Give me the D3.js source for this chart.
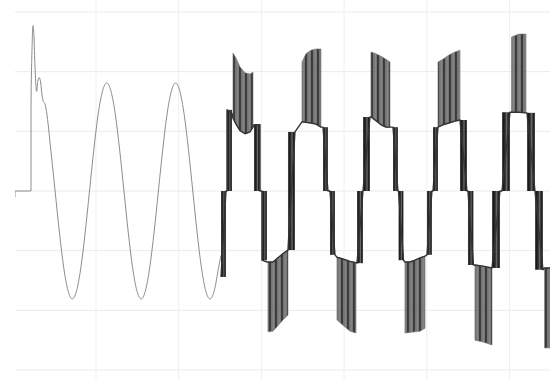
<!DOCTYPE html>
<html>
<head>
<meta charset="utf-8">
<script src="https://cdn.jsdelivr.net/npm/d3@7"></script>
<style>
  html, body { margin: 0; padding: 0; background: #fff; overflow: hidden; }
</style>
</head>
<body>
<svg id="chart" width="557" height="380"></svg>
<script>
// Time in milliseconds, voltage in volts
const timeTicks = [20, 40, 60, 80, 100, 120];
const valueTicks = [-300, -200, -100, 0, 100, 200, 300];

// Start-up transient followed by the sinusoidal supply
const sineT = [0.41, 0.45, 4.28, 4.29, 4.52, 4.76, 5.0, 5.25, 5.49, 5.66,
  5.9, 6.29, 6.63, 6.94, 7.26, 7.67, 8.03, 9.07, 10.11, 11.15,
  12.19, 13.23, 14.27, 15.31, 16.35, 17.39, 18.43, 19.47, 20.51, 21.55,
  22.6, 23.64, 24.68, 25.72, 26.76, 27.8, 28.84, 29.88, 30.92, 31.96,
  33.0, 34.05, 35.09, 36.13, 37.17, 38.21, 39.25, 40.29, 41.33, 42.37,
  43.41, 44.45, 45.49, 46.53, 47.57, 48.61, 49.66, 50.23];
const sineV = [-10, 0, 0, 144, 236, 277, 258, 208, 174, 167,
  183, 190, 181, 161, 150, 146, 133, 69, 0, -69,
  -128, -167, -181, -167, -128, -69, 0, 69, 128, 167,
  181, 167, 128, 69, 0, -69, -128, -167, -181, -167,
  -128, -69, 0, 69, 128, 167, 181, 167, 128, 69,
  0, -69, -128, -167, -181, -167, -128, -108];

// Inverter output: level followed between switching bursts
const stepT = [50.23, 51.44, 51.68, 51.68, 52.89,
  53.13, 53.86, 54.83, 56.04, 57.24, 57.97,
  58.21, 59.66, 59.66, 60.14, 60.14, 61.35,
  61.59, 62.79, 64.0, 65.22, 66.43,
  68.12,
  69.82, 70.78, 71.99, 73.2, 74.41,
  74.9, 76.1, 76.59, 77.8,
  78.28, 79.73, 81.43, 82.88,
  83.12, 84.57, 86.26,
  86.5, 87.71, 88.92, 90.13, 91.1,
  91.83, 93.03, 93.16, 94.37,
  94.72, 95.93, 97.14, 98.35, 99.56,
  100.04, 101.25, 101.5,
  102.71, 103.92, 105.37, 106.82, 108.03,
  109.72, 109.96, 111.29,
  111.65, 113.59, 115.77,
  117.7, 118.19, 120.12,
  120.49, 122.3, 123.99,
  124.23, 126.17, 128.1,
  128.47, 129.8];
const stepV = [-144, 0, 0, 136, 130,
  122, 112, 101, 96, 99, 107,
  111, 111, 0, 0, -116, -119,
  -119, -119, -112, -105, -99,
  99,
  116, 115, 114, 112, 107,
  107, 0, 0, -107,
  -111, -114, -118, -120,
  -121, 0, 124,
  124, 118, 111, 107, 107,
  107, 0, 0, -116,
  -119, -119, -116, -112, -109,
  -107, 0, 0,
  107, 111, 114, 117, 119,
  0, 0, -124,
  -124, -126, -129,
  0, 0, 132,
  132, 132, 131,
  131, 0, -132,
  -129, -129];

// Dense switching bursts between neighbouring levels
const burstStart = [50.23, 51.68, 58.21, 60.14, 66.43, 74.9, 76.59, 83.12, 84.57, 91.83,
  93.16, 100.04, 101.5, 108.03, 109.96, 115.77, 118.19, 124.23, 126.17];
const burstEnd = [51.44, 52.89, 59.66, 61.35, 68.12, 76.1, 77.8, 84.57, 86.26, 93.03,
  94.37, 101.25, 102.71, 109.72, 111.29, 117.7, 120.12, 126.17, 128.1];
const burstLow = [-144, 0, 0, -116, -99, 0, -107, -121, 0, 0,
  -116, -107, 0, 0, -124, -129, 0, 0, -132];
const burstHigh = [0, 136, 111, 0, 99, 107, 0, 0, 124, 107,
  0, 0, 107, 119, 0, 0, 132, 131, 0];

// Outer-level PWM blocks: sample times, outer level, inner level
const blockT = [
  [53.13, 53.86, 54.83, 56.04, 57.24, 57.97],
  [61.59, 62.79, 64.0, 65.22, 66.43],
  [69.82, 70.78, 71.99, 73.2, 74.41],
  [78.28, 79.73, 81.43, 82.88],
  [86.5, 87.71, 88.92, 90.13, 91.1],
  [94.72, 95.93, 97.14, 98.35, 99.56],
  [102.71, 103.92, 105.37, 106.82, 108.03],
  [111.65, 113.59, 115.77],
  [120.49, 122.3, 123.99],
  [128.47, 129.8]
];
const blockOuter = [
  [231, 223, 208, 198, 196, 199],
  [-236, -235, -226, -216, -208],
  [216, 230, 236, 238, 238],
  [-216, -225, -235, -238],
  [233, 230, 226, 221, 216],
  [-238, -237, -236, -235, -230],
  [216, 221, 228, 233, 236],
  [-250, -253, -258],
  [258, 263, 263],
  [-263, -263]
];
const blockInner = [
  [122, 112, 101, 96, 99, 107],
  [-119, -119, -112, -105, -99],
  [116, 115, 114, 112, 107],
  [-111, -114, -118, -120],
  [124, 118, 111, 107, 107],
  [-119, -119, -116, -112, -109],
  [107, 111, 114, 117, 119],
  [-124, -126, -129],
  [132, 132, 131],
  [-129, -129]
];

const W = 557, H = 380;
const plotLeft = 15, plotRight = 550;

const x = d3.scaleLinear().domain([0, 129.8]).range([13.3, plotRight]);
const y = d3.scaleLinear().domain([-300, 300]).range([370, 12]);

const svg = d3.select("#chart");
const defs = svg.append("defs");

defs.append("clipPath").attr("id", "plot-clip")
  .append("rect").attr("x", plotLeft).attr("y", 0)
  .attr("width", plotRight - plotLeft).attr("height", H);

const grad = defs.append("linearGradient").attr("id", "burst-fill")
  .attr("x1", 0).attr("x2", 1).attr("y1", 0).attr("y2", 0);
[["0%", "#5a5a5a"], ["18%", "#1a1a1a"], ["40%", "#2e2e2e"], ["58%", "#6a6a6a"],
 ["78%", "#1c1c1c"], ["100%", "#4a4a4a"]].forEach(([o, c]) =>
  grad.append("stop").attr("offset", o).attr("stop-color", c));

const pat = defs.append("pattern").attr("id", "block-fill")
  .attr("patternUnits", "userSpaceOnUse").attr("width", 6).attr("height", 10);
[[0, 1.2, "#3e3e3e"], [1.2, 1.3, "#5c5c5c"], [2.5, 1, "#464646"],
 [3.5, 1.3, "#676767"], [4.8, 1.2, "#3a3a3a"]].forEach(([px, pw, c]) =>
  pat.append("rect").attr("x", px).attr("y", 0).attr("width", pw).attr("height", 10).attr("fill", c));

// Grid
svg.append("g").selectAll("line").data(valueTicks).join("line")
  .attr("x1", plotLeft).attr("x2", plotRight)
  .attr("y1", d => y(d)).attr("y2", d => y(d))
  .attr("stroke", "#ebebeb").attr("stroke-width", 1);
svg.append("g").selectAll("line").data(timeTicks).join("line")
  .attr("x1", d => x(d)).attr("x2", d => x(d))
  .attr("y1", 0).attr("y2", H)
  .attr("stroke", "#efefef").attr("stroke-width", 1);

const plot = svg.append("g").attr("clip-path", "url(#plot-clip)");

// Sinusoidal section
const sinePts = sineT.map((t, i) => [t, sineV[i]]);
plot.append("path")
  .attr("d", d3.line().x(d => x(d[0])).y(d => y(d[1])).curve(d3.curveMonotoneX)(sinePts))
  .attr("fill", "none").attr("stroke", "#8c8c8c").attr("stroke-width", 1);

// Outer-level PWM blocks
const blockArea = d3.area()
  .x(d => x(d.t)).y0(d => y(d.inner)).y1(d => y(d.outer));
blockT.forEach((ts, b) => {
  const pts = ts.map((t, i) => ({ t, outer: blockOuter[b][i], inner: blockInner[b][i] }));
  plot.append("path").attr("d", blockArea(pts))
    .attr("fill", "url(#block-fill)")
    .attr("stroke", "#707070").attr("stroke-width", 0.6);
});

// Switching bursts
plot.append("g").selectAll("rect").data(burstStart.map((t, i) => i)).join("rect")
  .attr("x", i => x(burstStart[i]))
  .attr("width", i => x(burstEnd[i]) - x(burstStart[i]))
  .attr("y", i => y(burstHigh[i]))
  .attr("height", i => y(burstLow[i]) - y(burstHigh[i]))
  .attr("fill", "url(#burst-fill)");

// Level outline
const stepPts = stepT.map((t, i) => [t, stepV[i]]);
plot.append("path")
  .attr("d", d3.line().x(d => x(d[0])).y(d => y(d[1]))(stepPts))
  .attr("fill", "none").attr("stroke", "#333").attr("stroke-width", 1.4)
  .attr("stroke-linejoin", "round");
</script>
</body>
</html>
